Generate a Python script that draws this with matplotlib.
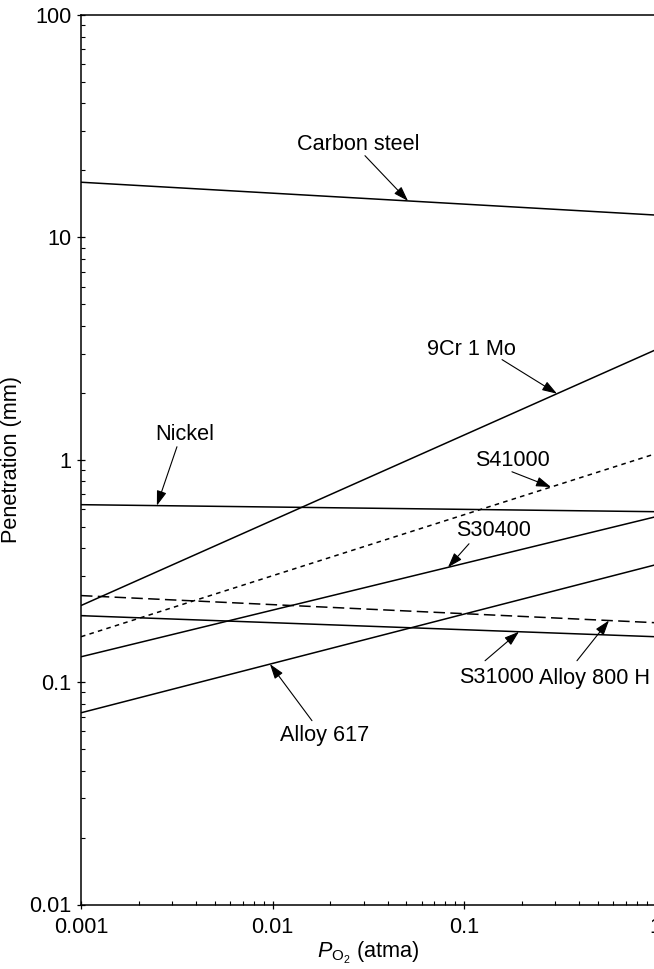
import numpy as np
import matplotlib
matplotlib.use("Agg")
import matplotlib.pyplot as plt
from matplotlib.ticker import FixedLocator, FuncFormatter, LogLocator, NullFormatter

plt.rcParams["font.family"] = ["Liberation Sans", "DejaVu Sans"]
plt.rcParams["mathtext.fontset"] = "custom"
plt.rcParams["mathtext.rm"] = "Liberation Sans"
plt.rcParams["mathtext.it"] = "Liberation Sans:italic"

# Oxygen partial pressure range (atma)
p_o2 = [0.001, 1.0]

# Penetration (mm) at the two ends of the pressure range
carbon_steel = [17.7, 12.6]
cr9_mo1 = [0.221, 3.12]
nickel = [0.628, 0.584]
s41000 = [0.160, 1.064]
s30400 = [0.130, 0.554]
alloy_617 = [0.0728, 0.337]
s31000 = [0.199, 0.160]
alloy_800h = [0.245, 0.185]

FS = 15.6

fig = plt.figure(figsize=(6.54, 9.69), dpi=100)
ax = fig.add_axes([81 / 654, (969 - 904.5) / 969, 574.5 / 654, 889.5 / 969])
ax.set_xscale("log")
ax.set_yscale("log")
ax.set_xlim(0.001, 1)
ax.set_ylim(0.01, 100)

lw = 1.1
series = {
    "carbon": (carbon_steel, "-"),
    "9cr": (cr9_mo1, "-"),
    "nickel": (nickel, "-"),
    "s41000": (s41000, (0, (3.0, 2.8))),
    "s30400": (s30400, "-"),
    "a617": (alloy_617, "-"),
    "s31000": (s31000, "-"),
    "a800h": (alloy_800h, (0, (7.5, 3.5))),
}
for vals, ls in series.values():
    ax.plot(p_o2, vals, color="black", lw=lw, linestyle=ls, solid_capstyle="butt")


def on_line(vals, x):
    """Penetration on a log-log straight line at pressure x."""
    lx0, lx1 = np.log10(p_o2)
    ly0, ly1 = np.log10(vals)
    t = (np.log10(x) - lx0) / (lx1 - lx0)
    return 10 ** (ly0 + t * (ly1 - ly0))


arrow_kw = dict(arrowstyle="-|>,head_length=0.75,head_width=0.25",
                color="black", lw=0.8, mutation_scale=12,
                shrinkA=0, shrinkB=0)

# label text, text position, arrow tail, arrow tip x, series
labels = [
    ("Carbon steel", (0.02796, 26.1), (0.0304, 23.3), 0.0510, carbon_steel),
    ("Nickel", (0.00349, 1.295), (0.00317, 1.144), 0.00249, nickel),
    ("9Cr 1 Mo", (0.110, 3.12), (0.158, 2.82), 0.306, cr9_mo1),
    ("S41000", (0.180, 0.99), (0.178, 0.883), 0.2846, s41000),
    ("S30400", (0.1434, 0.4795), (0.1062, 0.419), 0.0825, s30400),
    ("S31000", (0.1487, 0.1047), (0.1288, 0.1248), 0.1937, s31000),
    ("Alloy 800 H", (0.483, 0.1036), (0.389, 0.1248), 0.5715, alloy_800h),
    ("Alloy 617", (0.0188, 0.0574), (0.01607, 0.0671), 0.0097, alloy_617),
]
for text, tpos, tail, tipx, vals in labels:
    ax.text(tpos[0], tpos[1], text, ha="center", va="center", fontsize=FS)
    ax.annotate("", xy=(tipx, on_line(vals, tipx)), xytext=tail,
                arrowprops=arrow_kw)

# Ticks
ax.xaxis.set_major_locator(FixedLocator([0.001, 0.01, 0.1, 1]))
ax.yaxis.set_major_locator(FixedLocator([0.01, 0.1, 1, 10, 100]))
ax.xaxis.set_minor_locator(LogLocator(base=10, subs=np.arange(2, 10), numticks=20))
ax.yaxis.set_minor_locator(LogLocator(base=10, subs=np.arange(2, 10), numticks=20))
fmt = FuncFormatter(lambda v, pos: f"{v:g}")
ax.xaxis.set_major_formatter(fmt)
ax.yaxis.set_major_formatter(fmt)
ax.xaxis.set_minor_formatter(NullFormatter())
ax.yaxis.set_minor_formatter(NullFormatter())
ax.tick_params(which="major", direction="inout", length=6, width=0.9,
               labelsize=FS, color="black")
ax.tick_params(axis="x", which="major", pad=6)
ax.tick_params(axis="y", which="major", pad=4)
ax.tick_params(which="minor", direction="in", length=3, width=0.8, color="black")

for side in ("left", "bottom", "top"):
    ax.spines[side].set_linewidth(1.1)
ax.spines["right"].set_visible(False)

ax.set_ylabel("Penetration (mm)", fontsize=FS, labelpad=5)
ax.set_xlabel(r"$P_{\mathrm{O}_2}$ (atma)", fontsize=FS, labelpad=1)

fig.savefig("out.png", dpi=100)
